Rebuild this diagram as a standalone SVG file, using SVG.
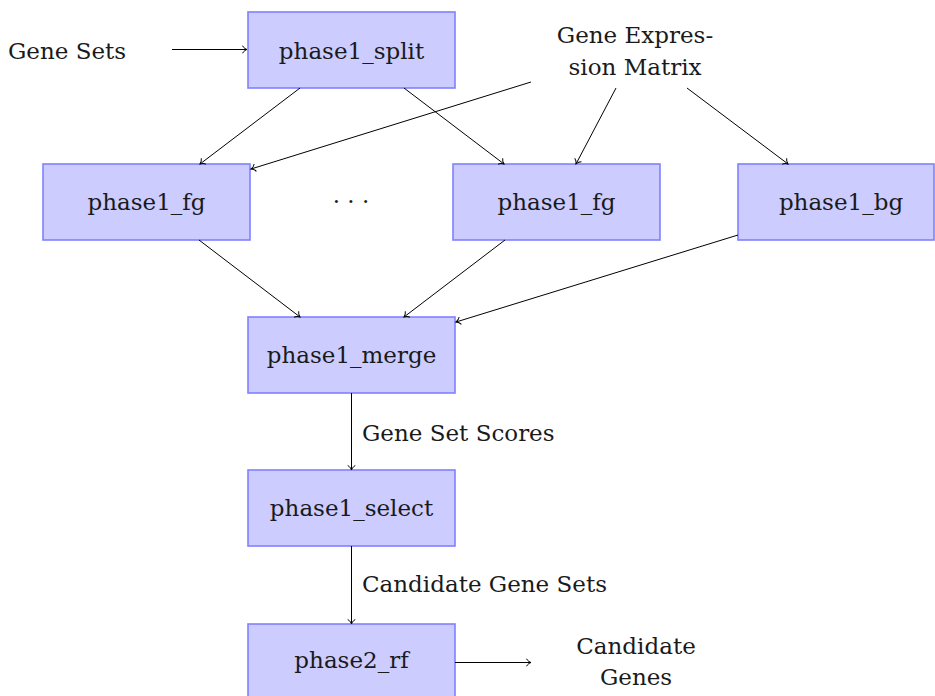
<svg xmlns="http://www.w3.org/2000/svg" width="935" height="696" viewBox="0 0 935 696">
  <style>
    .box { fill: #ccccff; stroke: #8080ff; stroke-width: 1.6; }
    .mid { text-anchor: middle; }
    .edge { stroke: #000; stroke-width: 1; fill: none; marker-end: url(#to); }
  </style>
  <defs>
    <!-- open, slightly curved arrow tip -->
    <marker id="to" markerUnits="userSpaceOnUse" markerWidth="12" markerHeight="12" viewBox="-6 -6 12 12" refX="0" refY="0" orient="auto" overflow="visible">
      <path d="M-4.5,-3.8 C-3.2,-1.2 -0.8,-0.3 0,0 C-0.8,0.3 -3.2,1.2 -4.5,3.8" fill="none" stroke="#000" stroke-width="1"/>
    </marker>
  </defs>

  <g font-family="'DejaVu Serif', 'Liberation Serif', serif" font-size="23" fill="#1a1a1a">
    <!-- free-standing labels -->
    <text class="mid" x="67" y="59">Gene Sets</text>
    <text class="mid" x="635" y="43">Gene Expres-</text>
    <text class="mid" x="635" y="75">sion Matrix</text>
    <text class="mid" x="351" y="209">· · ·</text>
    <text x="362" y="441">Gene Set Scores</text>
    <text x="362" y="592">Candidate Gene Sets</text>
    <text class="mid" x="636" y="654">Candidate</text>
    <text class="mid" x="636" y="685">Genes</text>

    <!-- nodes -->
    <g id="phase1_split">
      <rect class="box" x="248" y="12" width="207" height="76"/>
      <text class="mid" x="351.5" y="59">phase1_split</text>
    </g>
    <g id="phase1_fg_a">
      <rect class="box" x="43" y="164" width="207" height="76"/>
      <text class="mid" x="146.5" y="210">phase1_fg</text>
    </g>
    <g id="phase1_fg_b">
      <rect class="box" x="453" y="164" width="207" height="76"/>
      <text class="mid" x="556.5" y="210">phase1_fg</text>
    </g>
    <g id="phase1_bg">
      <rect class="box" x="738" y="164" width="196" height="76"/>
      <text class="mid" x="841" y="210">phase1_bg</text>
    </g>
    <g id="phase1_merge">
      <rect class="box" x="248" y="317" width="207" height="76"/>
      <text class="mid" x="351.5" y="363">phase1_merge</text>
    </g>
    <g id="phase1_select">
      <rect class="box" x="248" y="470" width="207" height="76"/>
      <text class="mid" x="351.5" y="516">phase1_select</text>
    </g>
    <g id="phase2_rf">
      <rect class="box" x="248" y="624" width="207" height="78"/>
      <text class="mid" x="351.5" y="668">phase2_rf</text>
    </g>
  </g>

  <!-- connectors -->
  <g id="edges">
    <line class="edge" x1="172" y1="49.5" x2="247" y2="49.5"/>
    <line class="edge" x1="300" y1="88" x2="200" y2="164"/>
    <line class="edge" x1="404" y1="88" x2="504" y2="164"/>
    <line class="edge" x1="531" y1="82" x2="251" y2="169"/>
    <line class="edge" x1="616" y1="88" x2="576" y2="164"/>
    <line class="edge" x1="687" y1="88" x2="788" y2="164"/>
    <line class="edge" x1="199" y1="240" x2="300" y2="317"/>
    <line class="edge" x1="505" y1="240" x2="404" y2="317"/>
    <line class="edge" x1="738" y1="235" x2="456" y2="322"/>
    <line class="edge" x1="351.5" y1="393" x2="351.5" y2="470"/>
    <line class="edge" x1="351.5" y1="546" x2="351.5" y2="624"/>
    <line class="edge" x1="455" y1="662.5" x2="531" y2="662.5"/>
  </g>
</svg>
